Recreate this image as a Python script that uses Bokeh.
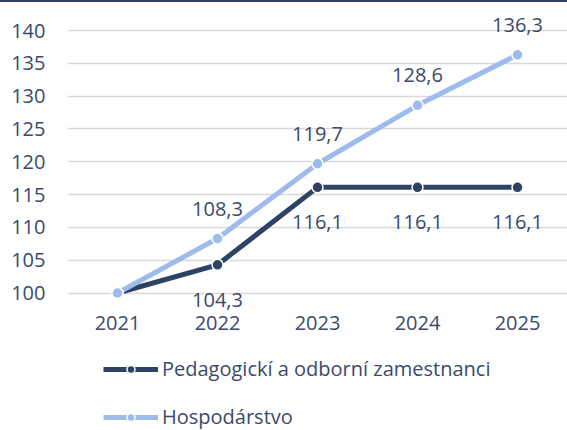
from bokeh.plotting import figure
from bokeh.layouts import column
from bokeh.models import Legend, LegendItem, FixedTicker, Range1d, ColumnDataSource
from bokeh.core.properties import value
from bokeh.embed import file_html
from bokeh.resources import INLINE

years = ["2021", "2022", "2023", "2024", "2025"]
ped_values = [100, 104.3, 116.1, 116.1, 116.1]
hosp_values = [100, 108.3, 119.7, 128.6, 136.3]
ped_name = "Pedagogickí a odborní zamestnanci"
hosp_name = "Hospodárstvo"
y_ticks = [100, 105, 110, 115, 120, 125, 130, 135, 140]

DARK = "#2E4265"
LIGHT = "#9DBCEB"
TXT = "#3B4A6B"
FONT = "Open Sans"
FS = "20px"

p = figure(x_range=years, y_range=Range1d(97.03, 144.27), frame_width=500, frame_height=310,
           output_backend="svg", toolbar_location=None,
           min_border_left=67, min_border_right=0, min_border_top=0, min_border_bottom=28)
p.outline_line_color = None
p.background_fill_color = "white"
p.border_fill_color = "white"

p.xgrid.grid_line_color = None
p.ygrid.grid_line_color = "#D9D9D9"
p.ygrid.grid_line_width = 1.3

p.yaxis.ticker = FixedTicker(ticks=y_ticks)
for ax in (p.xaxis, p.yaxis):
    ax.axis_line_color = None
    ax.major_tick_line_color = None
    ax.minor_tick_line_color = None
    ax.major_tick_out = 0
    ax.minor_tick_out = 0
    ax.major_label_text_font = FONT
    ax.major_label_text_font_size = FS
    ax.major_label_text_color = TXT
p.yaxis.major_label_standoff = 22
p.xaxis.major_label_standoff = 3

ped_src = ColumnDataSource(dict(x=years, y=ped_values))
hosp_src = ColumnDataSource(dict(x=years, y=hosp_values))

line_kw = dict(line_width=5)
mark_kw = dict(size=11, line_color="white", line_width=1.5)

p.line("x", "y", source=ped_src, line_color=DARK, **line_kw)
p.scatter("x", "y", source=ped_src, fill_color=DARK, **mark_kw)
p.line("x", "y", source=hosp_src, line_color=LIGHT, **line_kw)
p.scatter("x", "y", source=hosp_src, fill_color=LIGHT, **mark_kw)

ped_lbl = ColumnDataSource(dict(x=years[1:], y=ped_values[1:],
                                lbl=[("%.1f" % v).replace(".", ",") for v in ped_values[1:]]))
hosp_lbl = ColumnDataSource(dict(x=years[1:], y=hosp_values[1:],
                                 lbl=[("%.1f" % v).replace(".", ",") for v in hosp_values[1:]]))
p.text("x", "y", text="lbl", source=ped_lbl, text_align="center", text_baseline="middle",
       y_offset=35, text_font=value(FONT), text_font_size=FS, text_color=TXT)
p.text("x", "y", text="lbl", source=hosp_lbl, text_align="center", text_baseline="middle",
       y_offset=-30, text_font=value(FONT), text_font_size=FS, text_color=TXT)

# legend panel (series renderers lie outside its visible y range; only the legend shows)
lg = figure(width=567, height=90, x_range=years, y_range=Range1d(0, 1),
            output_backend="svg", toolbar_location=None,
            min_border_left=0, min_border_right=0, min_border_top=0, min_border_bottom=0)
lg.axis.visible = False
lg.grid.visible = False
lg.outline_line_color = None
lg.border_fill_color = "white"
k1 = lg.line("x", "y", source=ped_src, line_color=DARK, **line_kw)
m1 = lg.scatter("x", "y", source=ped_src, fill_color=DARK, size=9, line_color="white", line_width=1.5)
k2 = lg.line("x", "y", source=hosp_src, line_color=LIGHT, **line_kw)
m2 = lg.scatter("x", "y", source=hosp_src, fill_color=LIGHT, size=9, line_color="white", line_width=1.5)

legend = Legend(items=[LegendItem(label=ped_name, renderers=[k1, m1]),
                       LegendItem(label=hosp_name, renderers=[k2, m2])],
                orientation="vertical", location=(36, 0),
                glyph_width=55, glyph_height=20, label_height=20, spacing=21,
                label_standoff=4, padding=0, margin=0,
                label_text_font=FONT, label_text_font_size=FS, label_text_color=TXT,
                border_line_color=None, background_fill_alpha=0)
lg.add_layout(legend, "center")

layout = column(p, lg, spacing=0, styles={"border-top": "2px solid #2E4265"})
open("out.html", "w").write(file_html(layout, INLINE))
